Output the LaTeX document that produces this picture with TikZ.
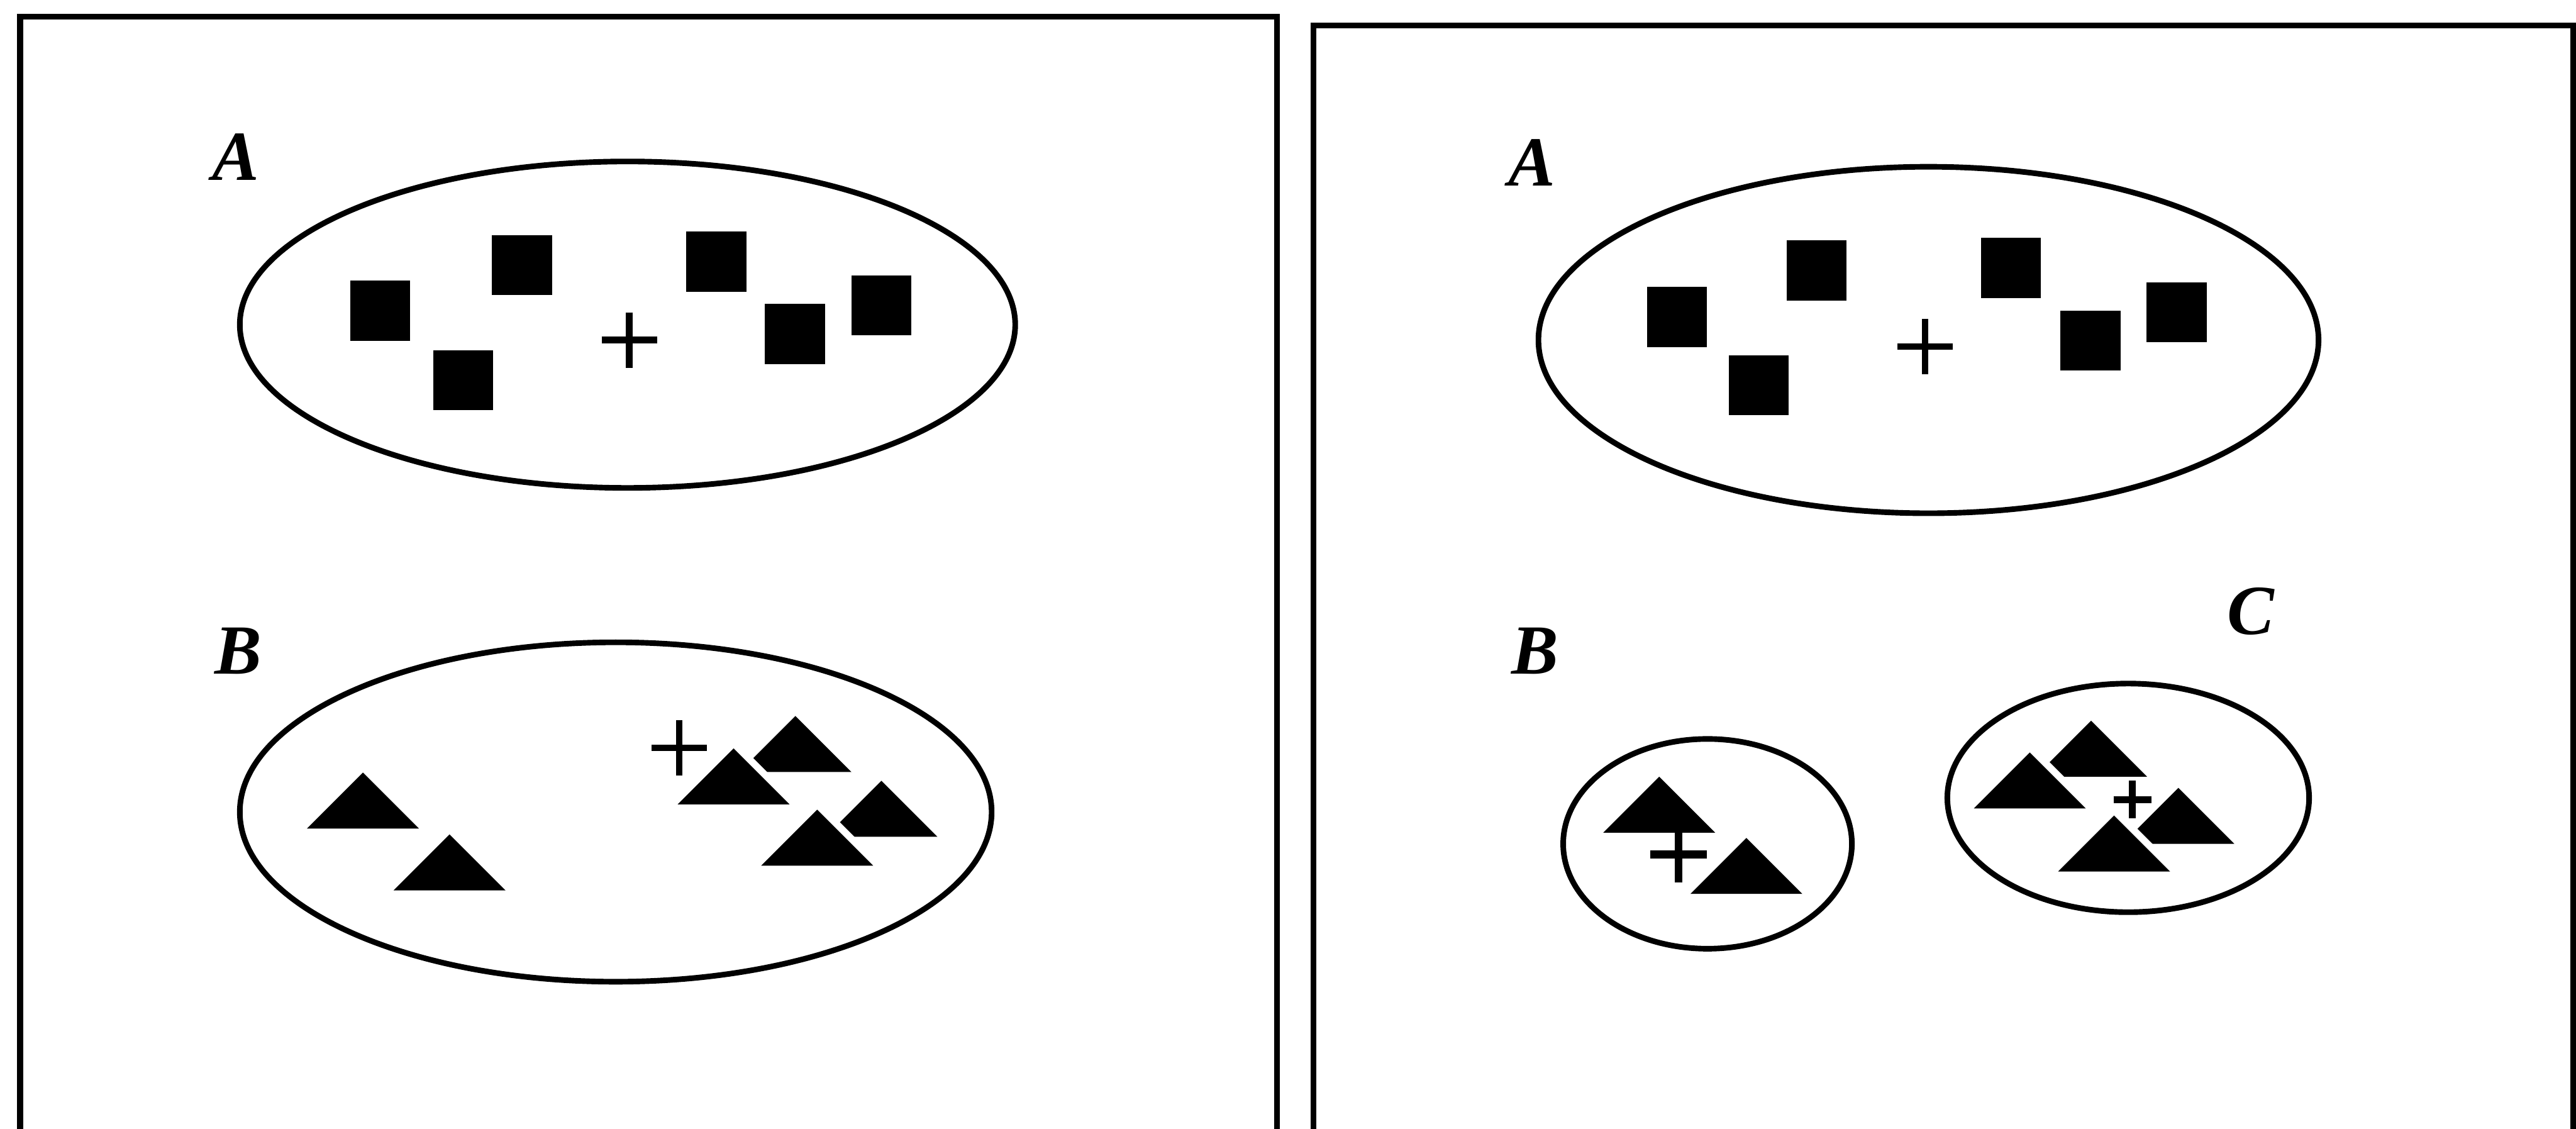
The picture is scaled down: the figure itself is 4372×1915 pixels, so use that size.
\documentclass[tikz,border=0pt]{standalone}
\usepackage{fontspec}
\setmainfont{Liberation Serif}
\usetikzlibrary{positioning}
\tikzset{
  every picture/.style={line width=0.8mm},
  frame/.style={draw=black, line width=1mm},
  cluster/.style={draw=black, line width=0.95mm},
  sqr/.style={rectangle, fill=black, inner sep=0pt, minimum size=10.2mm},
  tri/.style={fill=black},
  centre/.style={draw=black, line width=1.1mm},
  halo/.style={preaction={draw=white, line width=2.4mm, line join=round}},
  lbl/.style={font=\fontsize{34}{40}\selectfont\bfseries\itshape, inner sep=0pt},
}

\begin{document}
\begin{tikzpicture}[x=0.1mm, y=-0.1mm]
  \useasboundingbox (0,0) rectangle (4372,1915);
  \clip (0,0) rectangle (4372,1915);
  % the two panels, open at the bottom
  \draw[frame] (34,2000) -- (34,28) -- (2167,28) -- (2167,2000);
  \draw[frame] (2229,2000) -- (2229,43) -- (4367,43) -- (4367,2000);

  % ---- left panel ----
  \node[lbl] (labA1) at (400,266) {A};
  \node[lbl] (labB1) at (404,1105) {B};
  \draw[cluster] (1065,551) ellipse [x radius=658, y radius=277];
  \draw[cluster] (1045,1378) ellipse [x radius=638, y radius=288];
  % cluster A: squares
  \foreach \x/\y [count=\i] in {645/527, 886/450, 786/645, 1216/444, 1349/567, 1496/518}
    \node[sqr] (la\i) at (\x,\y) {};
  \draw[centre] (1068,577) +(-47,0) -- +(47,0) +(0,-47) -- +(0,47);
  % cluster B: triangles (base midpoint)
  \draw[centre] (1153,1269) +(-47,0) -- +(47,0) +(0,-47) -- +(0,47);
  \foreach \x/\y in {616/1406, 763/1511, 1350/1310, 1245/1365, 1496/1420, 1387/1469}
    \fill[tri, halo] (\x-95,\y) -- (\x,\y-95) -- (\x+95,\y) -- cycle;

  % ---- right panel ----
  \node[lbl] (labA2) at (2600,276) {A};
  \node[lbl] (labB2) at (2605,1105) {B};
  \node[lbl] (labC2) at (3820,1038) {C};
  \draw[cluster] (3273,577) ellipse [x radius=662, y radius=294];
  \draw[cluster] (2898,1432) ellipse [x radius=245, y radius=178];
  \draw[cluster] (3612,1354) ellipse [x radius=307, y radius=194];
  % cluster A: squares
  \foreach \x/\y [count=\i] in {2846/538, 3083/459, 2985/654, 3413/455, 3548/578, 3694/530}
    \node[sqr] (ra\i) at (\x,\y) {};
  \draw[centre] (3267,588) +(-47,0) -- +(47,0) +(0,-47) -- +(0,47);
  % cluster B
  \draw[centre, line width=1.3mm] (2849,1450) +(-48,0) -- +(48,0) +(0,-48) -- +(0,48);
  \foreach \x/\y in {2816/1413, 2964/1517}
    \fill[tri] (\x-95,\y) -- (\x,\y-95) -- (\x+95,\y) -- cycle;
  % cluster C
  \foreach \x/\y in {3549/1318, 3697/1432, 3445/1372, 3588/1479}
    \fill[tri, halo] (\x-95,\y) -- (\x,\y-95) -- (\x+95,\y) -- cycle;
  \draw[centre, preaction={draw=white, line width=3.2mm}, line width=1.2mm] (3619,1357) +(-32,0) -- +(32,0) +(0,-32) -- +(0,32);
\end{tikzpicture}
\end{document}
